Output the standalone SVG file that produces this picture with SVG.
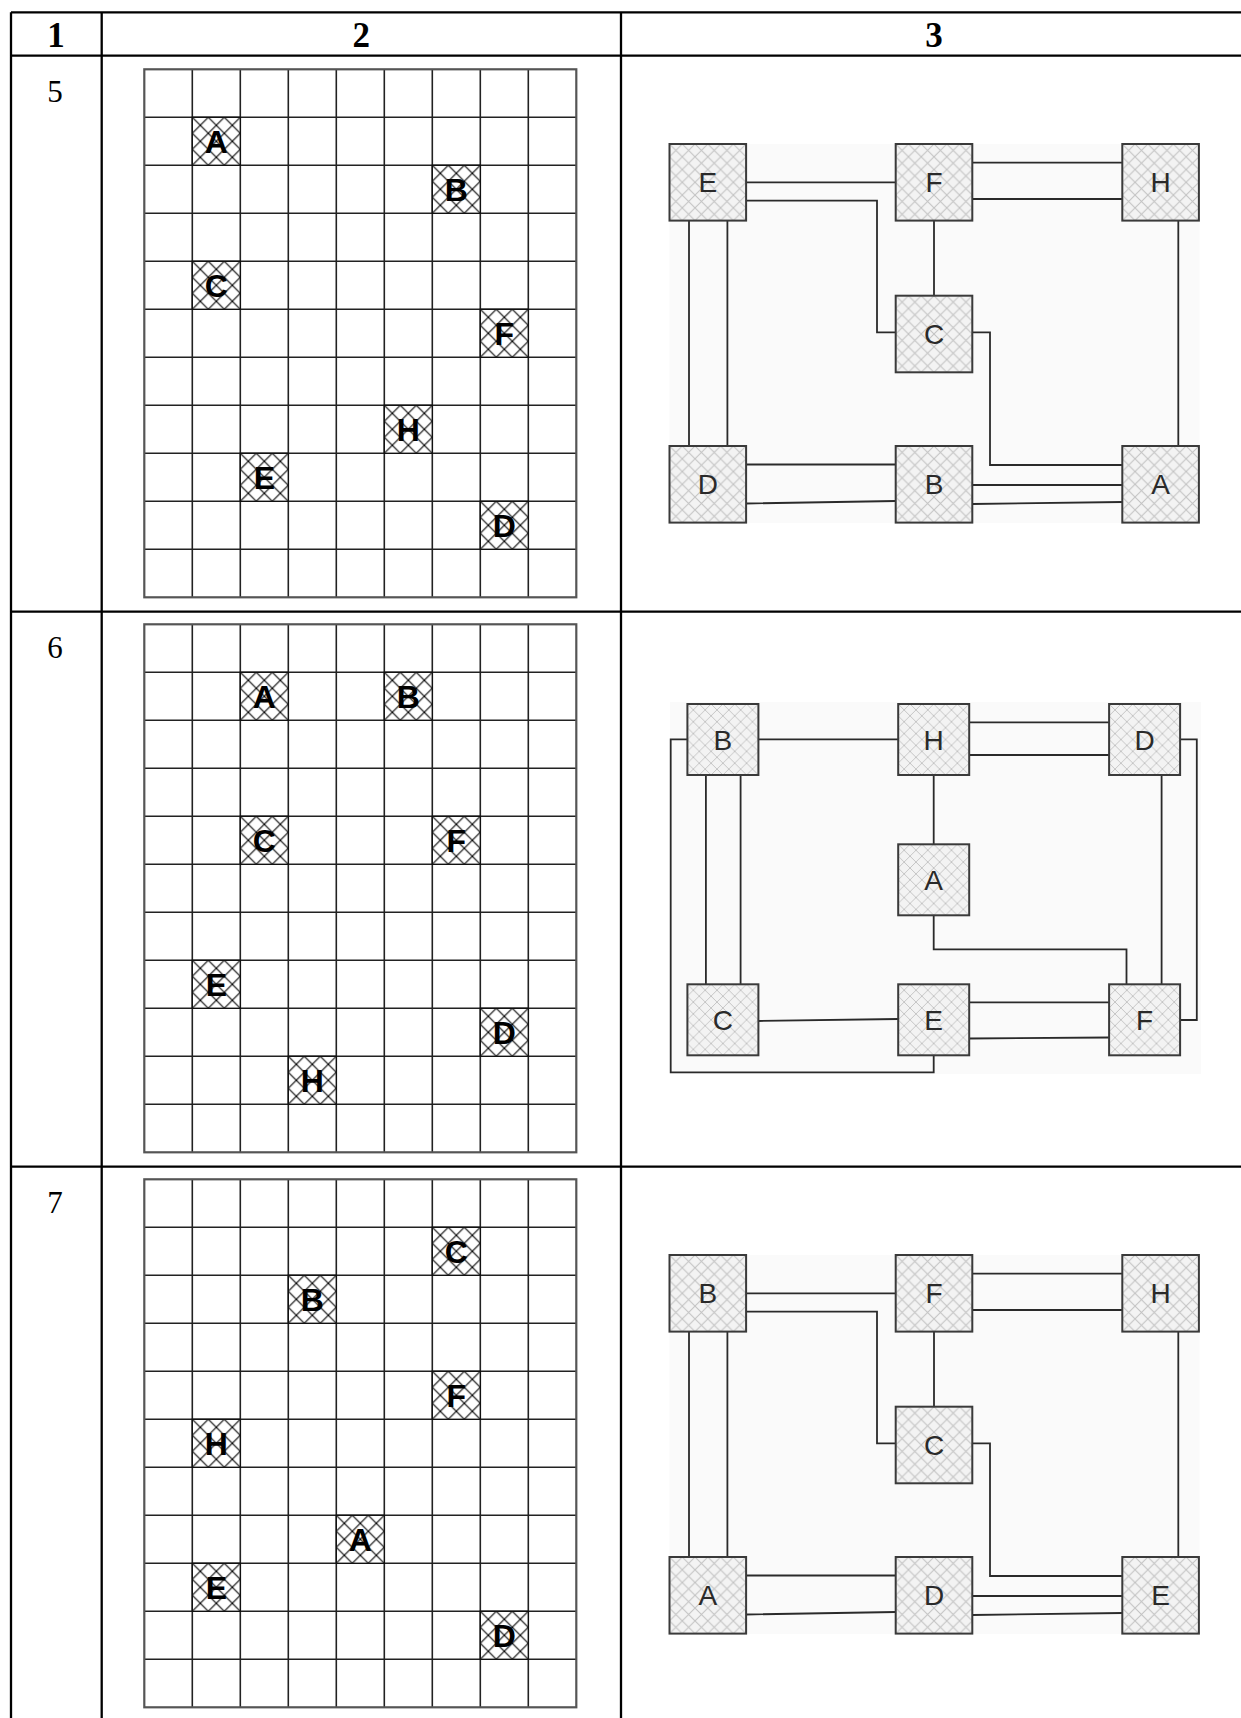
<svg xmlns="http://www.w3.org/2000/svg" xmlns:xlink="http://www.w3.org/1999/xlink" width="1241" height="1718" viewBox="0 0 1241 1718">
<style>
.tbl{stroke:#000;stroke-width:2.3;fill:none}
.hdr{font-family:"Liberation Serif","Times New Roman",serif;font-size:35px;font-weight:bold;text-anchor:middle;fill:#000}
.num{font-family:"Liberation Serif","Times New Roman",serif;font-size:31px;text-anchor:middle;fill:#000}
.gl{stroke:#222;stroke-width:1.6;fill:none}
.gout{stroke:#555;stroke-width:2.2;fill:none}
.gcell{fill:url(#gh);stroke:#111;stroke-width:1.4}
.glet{font-family:"Liberation Sans",Arial,sans-serif;font-size:32px;font-weight:bold;text-anchor:middle;fill:#000}
.nbox{fill:url(#nh);stroke:#3a3a3a;stroke-width:2}
.nlet{font-family:"Liberation Sans",Arial,sans-serif;font-size:28px;text-anchor:middle;fill:#2a2a2a}
.cn{stroke:#2a2a2a;stroke-width:1.8;fill:none}
.pbg{fill:#fafafa}
</style>
<defs>
<pattern id="gh" patternUnits="objectBoundingBox" width="0.3333" height="0.3333" viewBox="0 0 16 16">
<rect width="16" height="16" fill="#fff"/>
<path d="M0,0L16,16M16,0L0,16" stroke="#000" stroke-width="1.1"/>
</pattern>
<pattern id="nh" patternUnits="objectBoundingBox" width="0.1667" height="0.1667" viewBox="0 0 10 10">
<rect width="10" height="10" fill="#f3f3f3"/>
<path d="M0,0L10,10M10,0L0,10" stroke="#c2c2c2" stroke-width="0.8"/>
</pattern>
<g id="grid">
<rect x="0" y="0" width="432" height="528" fill="#fff"/>
<path class="gl" d="M48,0V528M96,0V528M144,0V528M192,0V528M240,0V528M288,0V528M336,0V528M384,0V528M0,48H432M0,96H432M0,144H432M0,192H432M0,240H432M0,288H432M0,336H432M0,384H432M0,432H432M0,480H432"/>
<rect class="gout" x="0" y="0" width="432" height="528"/>
</g>
</defs>
<rect width="1241" height="1718" fill="#fff"/>

<g id="table">
<path class="tbl" d="M11,12.3H1241M11,55.7H1241M11,611.7H1241M11,1166.7H1241M11,12.3V1718M101.7,12.3V1718M621,12.3V1718"/>
<text class="hdr" x="56" y="46.7">1</text>
<text class="hdr" x="361.3" y="46.7">2</text>
<text class="hdr" x="934" y="46.7">3</text>
<text class="num" x="55" y="102.3">5</text>
<text class="num" x="55" y="658.3">6</text>
<text class="num" x="55" y="1213.3">7</text>
</g>

<g id="grid5">
<use href="#grid" x="144.3" y="69.3"/>
<g id="g5-A"><rect class="gcell" x="192.3" y="117.3" width="48" height="48"/><text class="glet" x="216.3" y="152.8">A</text></g>
<g id="g5-B"><rect class="gcell" x="432.3" y="165.3" width="48" height="48"/><text class="glet" x="456.3" y="200.8">B</text></g>
<g id="g5-C"><rect class="gcell" x="192.3" y="261.3" width="48" height="48"/><text class="glet" x="216.3" y="296.8">C</text></g>
<g id="g5-F"><rect class="gcell" x="480.3" y="309.3" width="48" height="48"/><text class="glet" x="504.3" y="344.8">F</text></g>
<g id="g5-H"><rect class="gcell" x="384.3" y="405.3" width="48" height="48"/><text class="glet" x="408.3" y="440.8">H</text></g>
<g id="g5-E"><rect class="gcell" x="240.3" y="453.3" width="48" height="48"/><text class="glet" x="264.3" y="488.8">E</text></g>
<g id="g5-D"><rect class="gcell" x="480.3" y="501.3" width="48" height="48"/><text class="glet" x="504.3" y="536.8">D</text></g>
</g>

<g id="grid6">
<use href="#grid" x="144.3" y="624.3"/>
<g id="g6-A"><rect class="gcell" x="240.3" y="672.3" width="48" height="48"/><text class="glet" x="264.3" y="707.8">A</text></g>
<g id="g6-B"><rect class="gcell" x="384.3" y="672.3" width="48" height="48"/><text class="glet" x="408.3" y="707.8">B</text></g>
<g id="g6-C"><rect class="gcell" x="240.3" y="816.3" width="48" height="48"/><text class="glet" x="264.3" y="851.8">C</text></g>
<g id="g6-F"><rect class="gcell" x="432.3" y="816.3" width="48" height="48"/><text class="glet" x="456.3" y="851.8">F</text></g>
<g id="g6-E"><rect class="gcell" x="192.3" y="960.3" width="48" height="48"/><text class="glet" x="216.3" y="995.8">E</text></g>
<g id="g6-D"><rect class="gcell" x="480.3" y="1008.3" width="48" height="48"/><text class="glet" x="504.3" y="1043.8">D</text></g>
<g id="g6-H"><rect class="gcell" x="288.3" y="1056.3" width="48" height="48"/><text class="glet" x="312.3" y="1091.8">H</text></g>
</g>

<g id="grid7">
<use href="#grid" x="144.3" y="1179.3"/>
<g id="g7-C"><rect class="gcell" x="432.3" y="1227.3" width="48" height="48"/><text class="glet" x="456.3" y="1262.8">C</text></g>
<g id="g7-B"><rect class="gcell" x="288.3" y="1275.3" width="48" height="48"/><text class="glet" x="312.3" y="1310.8">B</text></g>
<g id="g7-F"><rect class="gcell" x="432.3" y="1371.3" width="48" height="48"/><text class="glet" x="456.3" y="1406.8">F</text></g>
<g id="g7-H"><rect class="gcell" x="192.3" y="1419.3" width="48" height="48"/><text class="glet" x="216.3" y="1454.8">H</text></g>
<g id="g7-A"><rect class="gcell" x="336.3" y="1515.3" width="48" height="48"/><text class="glet" x="360.3" y="1550.8">A</text></g>
<g id="g7-E"><rect class="gcell" x="192.3" y="1563.3" width="48" height="48"/><text class="glet" x="216.3" y="1598.8">E</text></g>
<g id="g7-D"><rect class="gcell" x="480.3" y="1611.3" width="48" height="48"/><text class="glet" x="504.3" y="1646.8">D</text></g>
</g>

<rect class="pbg" x="669.5" y="144" width="530" height="379"/>
<rect class="pbg" x="670" y="702" width="531" height="372"/>
<rect class="pbg" x="669.5" y="1255" width="530" height="379"/>

<g id="connectors">
<path class="cn" d="M746.1,182.3H895.7"/>
<path class="cn" d="M746.1,200.7H877V332.3H895.7"/>
<path class="cn" d="M972.3,162.7H1122.3M972.3,199H1122.3"/>
<path class="cn" d="M934,220.6V295.7"/>
<path class="cn" d="M1178.3,220.6V446"/>
<path class="cn" d="M689,220.6V446M727.4,220.6V446"/>
<path class="cn" d="M972.3,332.3H990V465H1122.3"/>
<path class="cn" d="M746.1,464.5H895.7M746.1,503.5L895.7,501"/>
<path class="cn" d="M972.3,485H1122.3M972.3,504L1122.3,502"/>
<path class="cn" d="M758.4,739.3H898.2"/>
<path class="cn" d="M969.2,722.3H1109.1M969.2,755H1109.1"/>
<path class="cn" d="M933.7,775V844.3"/>
<path class="cn" d="M933.7,915.3V949.3H1126.5V984.3"/>
<path class="cn" d="M1161.6,775V984.3"/>
<path class="cn" d="M1180.1,739.3H1196.8V1020H1180.1"/>
<path class="cn" d="M705.9,775V984.3M740.6,775V984.3"/>
<path class="cn" d="M687.4,739.3H670.7V1072.3H933.7V1055.3"/>
<path class="cn" d="M758.4,1021L898.2,1019"/>
<path class="cn" d="M969.2,1002.3H1109.1M969.2,1038.5L1109.1,1037.5"/>
<path class="cn" d="M746.1,1293.3H895.7"/>
<path class="cn" d="M746.1,1311.7H877V1443.3H895.7"/>
<path class="cn" d="M972.3,1273.7H1122.3M972.3,1310H1122.3"/>
<path class="cn" d="M934,1331.6V1406.7"/>
<path class="cn" d="M1178.3,1331.6V1557"/>
<path class="cn" d="M689,1331.6V1557M727.4,1331.6V1557"/>
<path class="cn" d="M972.3,1443.3H990V1576H1122.3"/>
<path class="cn" d="M746.1,1575.5H895.7M746.1,1614.5L895.7,1612"/>
<path class="cn" d="M972.3,1596H1122.3M972.3,1615L1122.3,1613"/>
</g>

<g id="n5-E"><rect class="nbox" x="669.5" y="144" width="76.6" height="76.6"/><text class="nlet" x="707.8" y="192.3">E</text></g>
<g id="n5-F"><rect class="nbox" x="895.7" y="144" width="76.6" height="76.6"/><text class="nlet" x="934" y="192.3">F</text></g>
<g id="n5-H"><rect class="nbox" x="1122.3" y="144" width="76.6" height="76.6"/><text class="nlet" x="1160.6" y="192.3">H</text></g>
<g id="n5-C"><rect class="nbox" x="895.7" y="295.7" width="76.6" height="76.6"/><text class="nlet" x="934" y="344">C</text></g>
<g id="n5-D"><rect class="nbox" x="669.5" y="446" width="76.6" height="76.6"/><text class="nlet" x="707.8" y="494.3">D</text></g>
<g id="n5-B"><rect class="nbox" x="895.7" y="446" width="76.6" height="76.6"/><text class="nlet" x="934" y="494.3">B</text></g>
<g id="n5-A"><rect class="nbox" x="1122.3" y="446" width="76.6" height="76.6"/><text class="nlet" x="1160.6" y="494.3">A</text></g>

<g id="n6-B"><rect class="nbox" x="687.4" y="704" width="71" height="71"/><text class="nlet" x="722.9" y="749.5">B</text></g>
<g id="n6-H"><rect class="nbox" x="898.2" y="704" width="71" height="71"/><text class="nlet" x="933.7" y="749.5">H</text></g>
<g id="n6-D"><rect class="nbox" x="1109.1" y="704" width="71" height="71"/><text class="nlet" x="1144.6" y="749.5">D</text></g>
<g id="n6-A"><rect class="nbox" x="898.2" y="844.3" width="71" height="71"/><text class="nlet" x="933.7" y="889.8">A</text></g>
<g id="n6-C"><rect class="nbox" x="687.4" y="984.3" width="71" height="71"/><text class="nlet" x="722.9" y="1029.8">C</text></g>
<g id="n6-E"><rect class="nbox" x="898.2" y="984.3" width="71" height="71"/><text class="nlet" x="933.7" y="1029.8">E</text></g>
<g id="n6-F"><rect class="nbox" x="1109.1" y="984.3" width="71" height="71"/><text class="nlet" x="1144.6" y="1029.8">F</text></g>

<g id="n7-B"><rect class="nbox" x="669.5" y="1255" width="76.6" height="76.6"/><text class="nlet" x="707.8" y="1303.3">B</text></g>
<g id="n7-F"><rect class="nbox" x="895.7" y="1255" width="76.6" height="76.6"/><text class="nlet" x="934" y="1303.3">F</text></g>
<g id="n7-H"><rect class="nbox" x="1122.3" y="1255" width="76.6" height="76.6"/><text class="nlet" x="1160.6" y="1303.3">H</text></g>
<g id="n7-C"><rect class="nbox" x="895.7" y="1406.7" width="76.6" height="76.6"/><text class="nlet" x="934" y="1455">C</text></g>
<g id="n7-A"><rect class="nbox" x="669.5" y="1557" width="76.6" height="76.6"/><text class="nlet" x="707.8" y="1605.3">A</text></g>
<g id="n7-D"><rect class="nbox" x="895.7" y="1557" width="76.6" height="76.6"/><text class="nlet" x="934" y="1605.3">D</text></g>
<g id="n7-E"><rect class="nbox" x="1122.3" y="1557" width="76.6" height="76.6"/><text class="nlet" x="1160.6" y="1605.3">E</text></g>
</svg>
